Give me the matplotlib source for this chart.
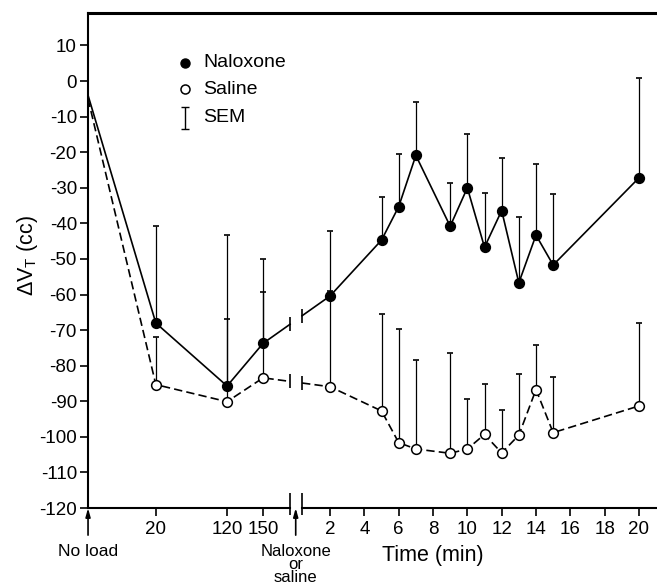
import numpy as np
import matplotlib
matplotlib.use('Agg')
import matplotlib.pyplot as plt

plt.rcParams['font.family'] = ['Liberation Sans', 'DejaVu Sans']
plt.rcParams['axes.unicode_minus'] = False
plt.rcParams['mathtext.fontset'] = 'custom'
plt.rcParams['mathtext.rm'] = 'Liberation Sans'
plt.rcParams['mathtext.it'] = 'Liberation Sans'

# before injection (load duration, min)
pre_labels = ['No load', '20', '120', '150']
naloxone_pre = [-4, -68.0, -85.7, -73.7]
naloxone_pre_sem = [0, 27.3, 42.4, 23.6]
saline_pre = [-5, -85.3, -90.1, -83.4]
saline_pre_sem = [0, 13.3, 23.1, 24.0]

# after injection (min)
minutes = [2, 5, 6, 7, 9, 10, 11, 12, 13, 14, 15, 20]
naloxone = [-60.4, -44.7, -35.3, -20.9, -40.8, -30.0, -46.7, -36.4, -56.7, -43.3, -51.7, -27.2]
naloxone_sem = [18.4, 12.0, 14.8, 15.1, 12.2, 15.0, 15.3, 14.8, 18.4, 20.0, 19.9, 28.0]
saline = [-85.9, -92.7, -101.6, -103.4, -104.6, -103.4, -99.3, -104.5, -99.5, -86.7, -98.8, -91.3]
saline_sem = [26.9, 27.1, 31.9, 25.0, 28.2, 14.0, 14.1, 12.0, 17.1, 12.5, 15.5, 23.2]
min_ticks = [2, 4, 6, 8, 10, 12, 14, 16, 18, 20]

# layout of the broken x axis: minutes as is, load conditions to the left of the break
pre_x = [-12.1, -8.15, -4.0, -1.9]
brk = (-0.33, 0.37)
xmin, xmax = -12.1, 21.05
ymin, ymax = -120, 19

fig = plt.figure(figsize=(6.57, 5.84), dpi=100)
ax = fig.add_axes([0.134, 0.130, 0.866, 0.847])


def draw(pre, pre_sem, post, post_sem, filled, ls):
    xs = pre_x + minutes
    ys = pre + post
    yl = np.interp(brk[0], xs, ys)
    yr = np.interp(brk[1], xs, ys)
    kw = dict(color='k', lw=1.2, ls=ls)
    if ls == '--':
        kw['dashes'] = (5, 2.5)
    ax.plot(pre_x + [brk[0]], pre + [yl], **kw)
    ax.plot([brk[1]] + minutes, [yr] + post, **kw)
    ax.plot(brk, [yl, yr], ls='none', marker='|', ms=10, mew=1.2, color='k')
    sems = pre_sem[1:] + post_sem
    ax.errorbar(xs[1:], ys[1:], yerr=[np.zeros(len(sems)), sems], fmt='none',
                ecolor='k', elinewidth=0.9, capsize=2.5, capthick=1.2, zorder=3)
    ax.plot(xs[1:], ys[1:], ls='none', marker='o', ms=7, mew=1.1, mec='k',
            mfc='k' if filled else 'white', zorder=4)


draw(naloxone_pre, naloxone_pre_sem, naloxone, naloxone_sem, True, '-')
draw(saline_pre, saline_pre_sem, saline, saline_sem, False, '--')

ax.set_xlim(xmin, xmax)
ax.set_ylim(ymin, ymax)
ax.set_yticks(range(-120, 11, 10))
ax.set_xticks(pre_x[1:] + min_ticks)
ax.set_xticklabels(pre_labels[1:] + [str(t) for t in min_ticks])
ax.tick_params(axis='both', direction='out', length=6, width=1.2, labelsize=13.5)
ax.tick_params(axis='x', pad=3)
ax.tick_params(axis='y', pad=2)

for s in ['right', 'bottom']:
    ax.spines[s].set_visible(False)
ax.spines['top'].set_linewidth(2.2)
ax.spines['left'].set_linewidth(1.5)

# broken bottom axis
ax.plot([xmin, brk[0]], [ymin, ymin], color='k', lw=1.5, clip_on=False)
ax.plot([brk[1], xmax], [ymin, ymin], color='k', lw=1.5, clip_on=False)
ax.vlines(brk, ymin - 2.0, ymin + 4.2, color='k', lw=1.2, clip_on=False)

# arrows under the axis
for xa in [pre_x[0], 0]:
    ax.annotate('', xy=(xa, ymin), xytext=(xa, ymin - 7.6),
                arrowprops=dict(arrowstyle='-|>,head_width=0.14,head_length=0.5',
                                color='k', lw=1.2, shrinkA=0, shrinkB=0),
                annotation_clip=False)
ax.text(pre_x[0], -132.3, pre_labels[0], ha='center', va='center', fontsize=12.5)
ax.text(0, -130.0, 'Naloxone\nor\nsaline', ha='center', va='top', fontsize=12,
        linespacing=0.84)
ax.text(8, -133.2, 'Time (min)', ha='center', va='center', fontsize=15.5)

fig.text(27 / 657, 1 - 255 / 584, r'$\Delta\mathrm{V}_\mathrm{T}$ (cc)', rotation=90,
         ha='center', va='center', fontsize=15.5)

# legend
tr = ax.transAxes
ax.plot([0.170], [0.900], 'o', ms=6.5, color='k', transform=tr)
ax.plot([0.170], [0.847], 'o', ms=6.5, mfc='white', mec='k', mew=1.1, transform=tr)
ax.errorbar([0.170], [0.789], yerr=[[0.022], [0.022]], fmt='none', ecolor='k',
            elinewidth=1.0, capsize=3, capthick=1.0, transform=tr)
ax.text(0.202, 0.900, 'Naloxone', transform=tr, va='center', fontsize=14)
ax.text(0.202, 0.847, 'Saline', transform=tr, va='center', fontsize=14)
ax.text(0.202, 0.789, 'SEM', transform=tr, va='center', fontsize=14)

fig.savefig('out.png', dpi=100)
